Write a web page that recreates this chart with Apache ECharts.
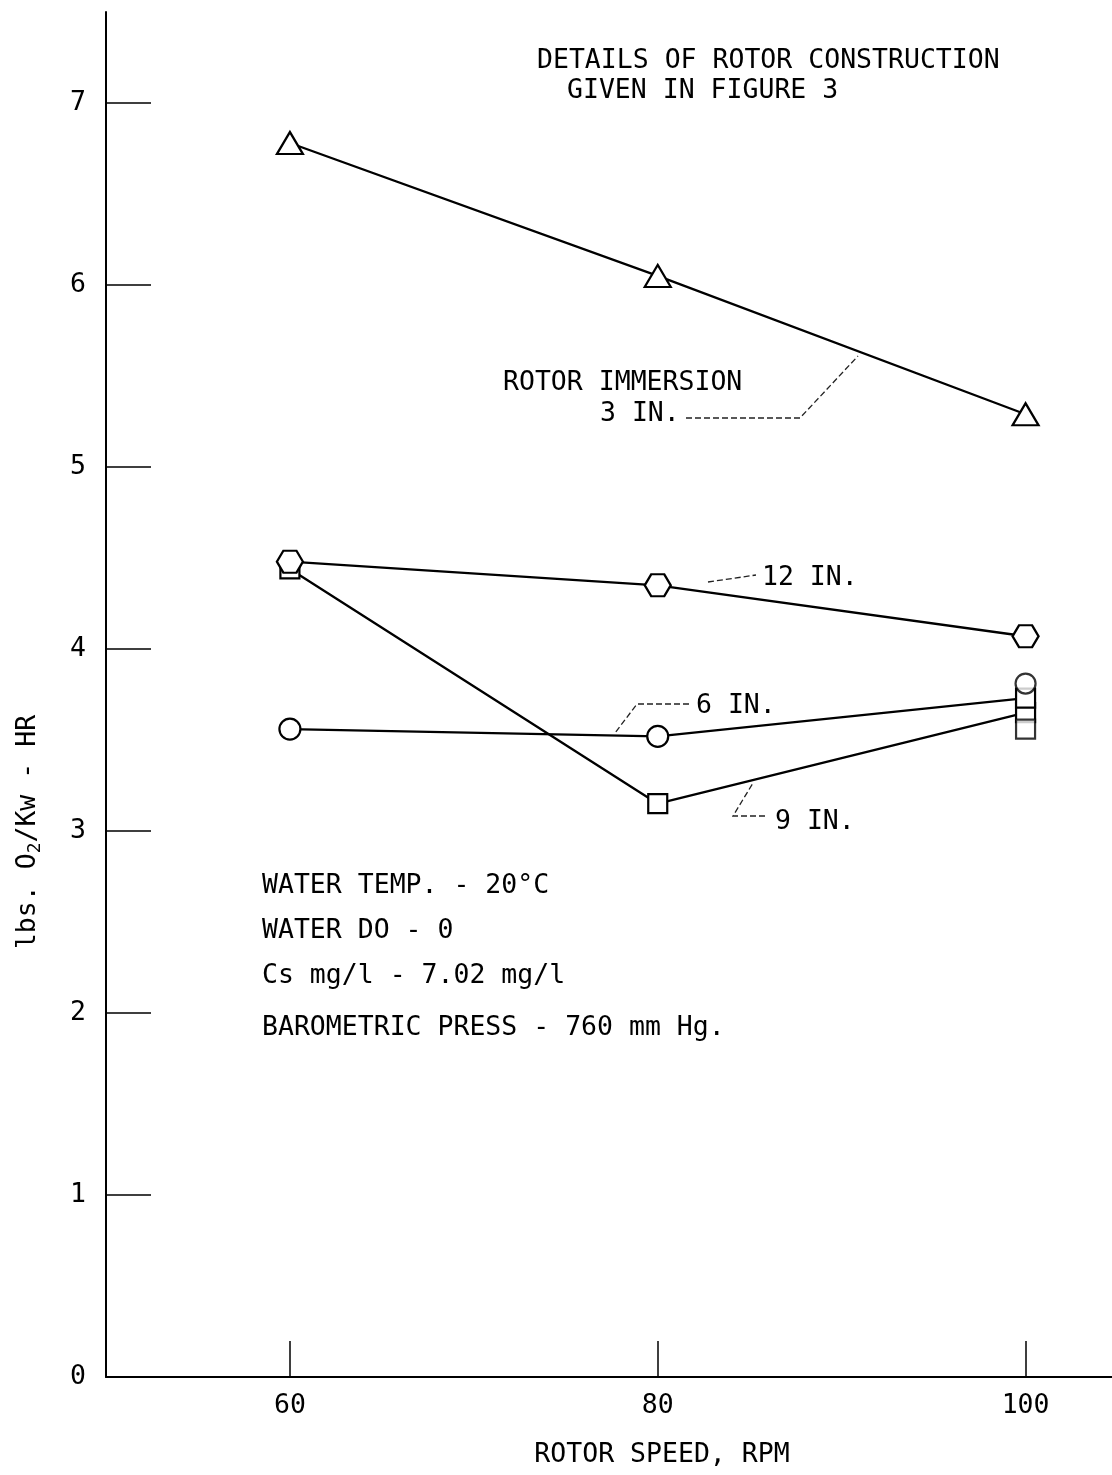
<!DOCTYPE html>
<html>
<head>
<meta charset="utf-8">
<script src="https://cdn.jsdelivr.net/npm/echarts@6/dist/echarts.min.js"></script>
<style>
html,body{margin:0;padding:0;background:#fff;}
#main{width:1112px;height:1475px;}
</style>
</head>
<body>
<div id="main"></div>
<script>
// ---- data ----
var rpm = [60, 80, 100];
var immersion3in = [6.78, 6.05, 5.29];
var immersion12in = [4.48, 4.35, 4.07];
var immersion6in = [3.56, 3.52, 3.73];
var immersion9in = [4.44, 3.15, 3.65];
// extra stacked markers observed at 100 RPM
var extraCircleAt100 = [[100, 3.81]];
var extraSquareAt100 = [[100, 3.56]];
var xTicks = [60, 80, 100];
var yTicks = [0, 1, 2, 3, 4, 5, 6, 7];

var FONT = 'DejaVu Sans Mono';
var FS = 26.5;
var hexPath = 'path://M0,10 L6,0 L18,0 L24,10 L18,20 L6,20 Z';

function pairs(vals){ return rpm.map(function(x,i){return [x, vals[i]];}); }

var mk = {color:'#fff', borderColor:'#000', borderWidth:2.2};
var ln = {color:'#000', width:2.3};

var chart = echarts.init(document.getElementById('main'), null, {renderer:'canvas'});

var textStyle = {fill:'#000', font: FS + 'px "' + FONT + '"', verticalAlign:'middle'};
function txt(s, x, y, extra){
  var st = Object.assign({text:s, x:x, y:y}, textStyle, extra||{});
  return {type:'text', style: st, silent:true};
}
function leader(points){
  return {type:'polyline', shape:{points:points}, style:{stroke:'#222', lineWidth:1.3, lineDash:[6,3], fill:null}, silent:true};
}

chart.setOption({
  backgroundColor:'#fff',
  animation:false,
  grid:{left:106, top:12, width:1006, height:1365, containLabel:false},
  xAxis:{
    type:'value', min:50, max:104.7,
    axisLine:{show:true, lineStyle:{color:'#000', width:2}},
    axisTick:{show:true, inside:true, length:36, customValues:xTicks, lineStyle:{color:'#000', width:1.5}},
    axisLabel:{show:true, customValues:xTicks, margin:16, color:'#000', fontFamily:FONT, fontSize:FS},
    splitLine:{show:false}
  },
  yAxis:{
    type:'value', min:0, max:7.5,
    axisLine:{show:true, lineStyle:{color:'#000', width:2}},
    axisTick:{show:true, inside:true, length:45, customValues:yTicks, lineStyle:{color:'#000', width:1.5}},
    axisLabel:{show:true, customValues:yTicks, margin:20, color:'#000', fontFamily:FONT, fontSize:FS},
    splitLine:{show:false}
  },
  series:[
    {name:'3 IN.', type:'line', data:pairs(immersion3in), symbol:'triangle', symbolSize:[26,22], itemStyle:mk, lineStyle:ln, z:3},
    {name:'9 IN.', type:'line', data:pairs(immersion9in), symbol:'rect', symbolSize:19, itemStyle:mk, lineStyle:ln, z:3},
    {name:'6 IN.', type:'line', data:[[60,immersion6in[0]],[80,immersion6in[1]],{value:[100,immersion6in[2]], symbol:'rect', symbolSize:19}], symbol:'circle', symbolSize:21, itemStyle:mk, lineStyle:ln, z:3},
    {name:'12 IN.', type:'line', data:pairs(immersion12in), symbol:hexPath, symbolSize:[26,22], itemStyle:mk, lineStyle:ln, z:4},
    {name:'extra circle', type:'scatter', data:extraCircleAt100, symbol:'circle', symbolSize:20, itemStyle:mk, z:5},
    {name:'extra square', type:'scatter', data:extraSquareAt100, symbol:'rect', symbolSize:19, itemStyle:mk, z:5}
  ],
  graphic:[
    txt('DETAILS OF ROTOR CONSTRUCTION', 537, 61),
    txt('GIVEN IN FIGURE 3', 567, 91),
    txt('ROTOR IMMERSION', 503, 383),
    txt('3 IN.', 600, 414),
    leader([[686,418],[800,418],[858,356]]),
    txt('12 IN.', 762, 578),
    leader([[708,582],[756,575]]),
    txt('6 IN.', 696, 706),
    leader([[689,704],[637,704],[615,733]]),
    txt('9 IN.', 775, 822),
    leader([[765,816],[733,816],[753,783]]),
    txt('WATER TEMP. - 20°C', 262, 886),
    txt('WATER DO - 0', 262, 931),
    txt('Cs mg/l - 7.02 mg/l', 262, 976),
    txt('BAROMETRIC PRESS - 760 mm Hg.', 262, 1028),
    txt('ROTOR SPEED, RPM', 662, 1455, {align:'center'}),
    {type:'text', x:28, y:832, rotation:Math.PI/2, silent:true,
     style:{text:'{a|lbs. O}{s|2}{a|/Kw - HR}', align:'center', verticalAlign:'middle',
       rich:{a:{fontFamily:FONT, fontSize:FS, fill:'#000', color:'#000'}, s:{fontFamily:FONT, fontSize:18, fill:'#000', color:'#000', padding:[14,0,0,0]}}}}
  ]
});
</script>
</body>
</html>
